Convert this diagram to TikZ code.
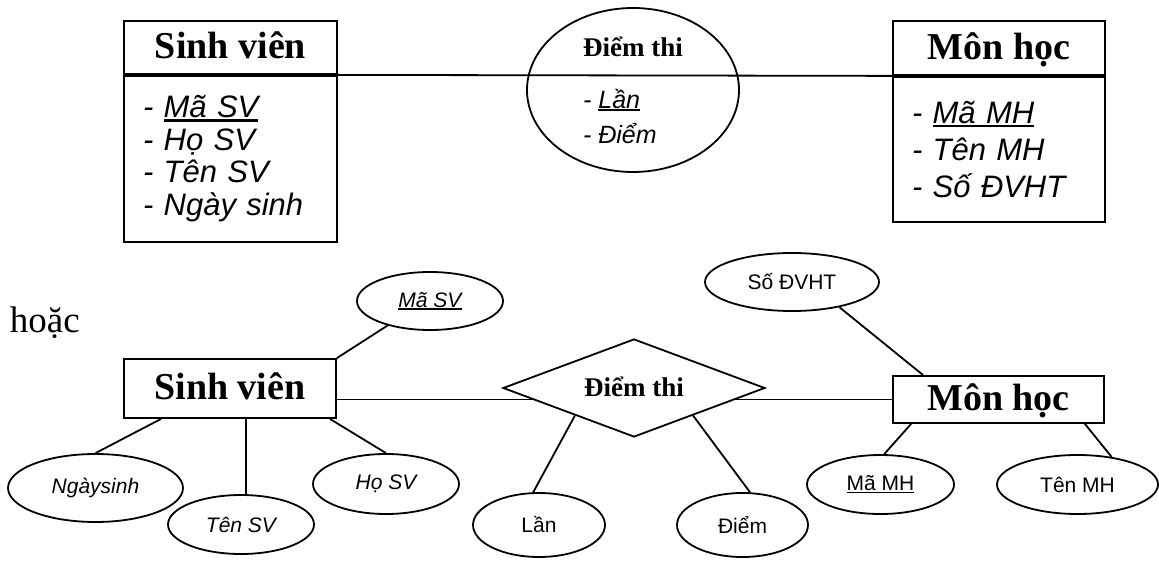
\documentclass[tikz,border=0pt]{standalone}
\usepackage{fontspec}
\setmainfont{Liberation Serif}
\setsansfont{Liberation Sans}
\usetikzlibrary{shapes.geometric}
\newsavebox{\undlbox}
\newcommand{\undl}[1]{\sbox{\undlbox}{#1}\rlap{\rule[-0.12em]{\wd\undlbox}{0.075em}}\usebox{\undlbox}}

\begin{document}
\begin{tikzpicture}[x=1pt, y=-1pt, line width=1.8pt,
    entity/.style={draw, rectangle, inner sep=0pt, font=\bfseries\fontsize{38}{40}\selectfont, text height=28.5pt, text depth=5.7pt},
    attrlist/.style={draw, rectangle, anchor=north, inner xsep=19pt, inner ysep=0pt, align=left, font=\sffamily\itshape\fontsize{31}{32.5}\selectfont},
    attr/.style={draw, ellipse, inner sep=0pt, font=\sffamily\fontsize{21}{24}\selectfont},
    relation/.style={draw, diamond, aspect=2.67, fill=white, inner sep=0pt, font=\bfseries\fontsize{27}{30}\selectfont, text height=20pt, text depth=4pt}]
      \useasboundingbox (0,0) rectangle (1159,561);

      \node[entity, minimum width=213, minimum height=53] (svT) at (230.5,47.5) {Sinh viên};
      \node[attrlist, minimum width=213, minimum height=166, text width=175pt] (svA) at (svT.south) {- \undl{Mã SV}\\ - Họ SV\\ - Tên SV\\ - Ngày sinh};
      \node[entity, minimum width=212, minimum height=54] (mhT) at (999,48) {Môn học};
      \node[attrlist, minimum width=212, minimum height=145, text width=174pt, font=\sffamily\itshape\fontsize{31}{37}\selectfont] (mhA) at (mhT.south) {- \undl{Mã MH}\\ - Tên MH\\ - Số ĐVHT};
      \node[draw, ellipse, inner sep=-4pt, minimum width=212, minimum height=164, align=left, font=\sffamily\itshape\fontsize{25}{35}\selectfont] (dt) at (633,90) {{\rmfamily\upshape\bfseries\fontsize{27}{30}\selectfont Điểm thi}\\[17pt] - \undl{Lần}\\ - Điểm};
      \draw (svT.south east) -- (mhT.south west);

      \node[anchor=base west, inner sep=0pt, font=\fontsize{37}{40}\selectfont] (hoac) at (9,332) {hoặc};
      \node[entity, minimum width=212, minimum height=59] (sv) at (230,388.5) {Sinh viên};
      \node[entity, minimum width=211, minimum height=47] (mh) at (998.5,399.5) {Môn học};
      \draw (mh.west) -- (mh.west -| sv.east);
      \node[relation, minimum width=262, minimum height=98] (dtr) at (634,388) {Điểm thi};

      \node[attr, font=\sffamily\itshape\fontsize{21}{24}\selectfont, minimum width=146, minimum height=58] (maSV) at (430,301) {\undl{Mã SV}};
      \node[attr, font=\sffamily\itshape\fontsize{21}{24}\selectfont, minimum width=175, minimum height=68] (ngaySinh) at (95.5,488) {Ngàysinh};
      \node[attr, font=\sffamily\itshape\fontsize{21}{24}\selectfont, minimum width=146, minimum height=59] (tenSV) at (241,524.5) {Tên SV};
      \node[attr, font=\sffamily\itshape\fontsize{21}{24}\selectfont, minimum width=146, minimum height=60] (hoSV) at (386,484) {Họ SV};
      \node[attr, minimum width=132, minimum height=64] (lan) at (539,525) {Lần};
      \node[attr, minimum width=131, minimum height=64] (diem) at (742.5,525) {Điểm};
      \node[attr, minimum width=147, minimum height=59] (maMH) at (880.5,484.5) {\undl{Mã MH}};
      \node[attr, minimum width=161, minimum height=59] (tenMH) at (1077.5,484.5) {Tên MH};
      \node[attr, minimum width=174, minimum height=58] (soDVHT) at (792,282) {Số ĐVHT};

      \draw (maSV.210) -- (sv.north east);
      \draw ([xshift=38pt]sv.south west) -- (ngaySinh.north);
      \draw (tenSV.80) -- (tenSV.80 |- sv.south);
      \draw ([xshift=-7pt]sv.south east) -- (hoSV.north);
      \draw (dtr.205) -- (lan.100);
      \draw (dtr.335) -- (diem.77);
      \draw ([xshift=19pt]mh.south west) -- (maMH.83);
      \draw ([xshift=-20pt]mh.south east) -- (tenMH.39);
      \draw ([xshift=31pt]mh.north west) -- (soDVHT.332);
    \end{tikzpicture}
\end{document}
